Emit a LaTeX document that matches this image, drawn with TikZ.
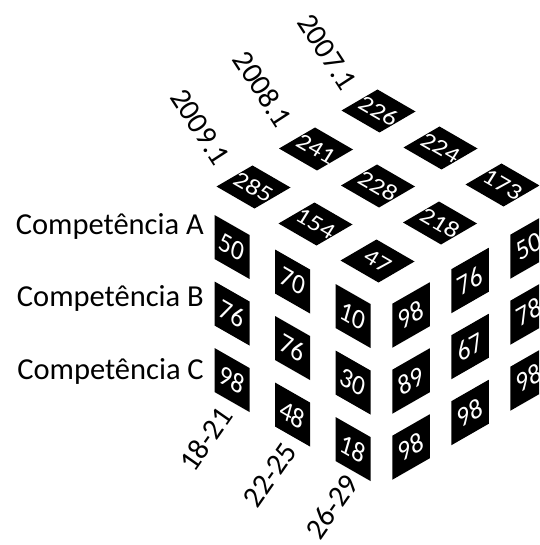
\documentclass[tikz,border=0pt]{standalone}
\usepackage{fontspec}
\setmainfont{Carlito}
\usetikzlibrary{calc}
\tikzset{
  cellfill/.style={fill=black},
  celltext/.style={text=white, font=\fontsize{27}{27}\selectfont, inner sep=0pt, transform shape},
  topplane/.code={\pgftransformcm{0.866}{-0.5}{0.45}{0.72}{\pgfpointorigin}},
  leftplane/.code={\pgftransformcm{0.866}{-0.5}{0.28}{0.96}{\pgfpointorigin}},
  rightplane/.code={\pgftransformcm{0.866}{0.5}{-0.28}{0.96}{\pgfpointorigin}},
  rowlabel/.style={font=\fontsize{30.5}{30.5}\selectfont, inner sep=0pt, anchor=base east},
  axislabel/.style={font=\fontsize{30}{30}\selectfont, inner sep=0pt},
}
\begin{document}
\begin{tikzpicture}[x=1pt,y=-1pt]
\fill[white] (0,0) rectangle (539,545);
\useasboundingbox (0,0) rectangle (539,545);
\clip (0,0) rectangle (539,545);

% top face: i runs along the age axis, j along the year axis
\foreach \i/\j/\v in {0/0/285,1/0/154,2/0/47,0/1/241,1/1/228,2/1/218,0/2/226,1/2/224,2/2/173} {
  \coordinate (tc) at ($(253.5,187)+\i*(62,37)+\j*(62.5,-38)$);
  \fill[cellfill] ($(tc)+(-37,-0.5)$) -- ++(38,22) -- ++(36,-21) -- ++(-38,-22) -- cycle;
  \begin{scope}[shift={(tc)}, topplane]
    \node[celltext] (t\i\j) at (0,0) {\v};
  \end{scope}
}

% left face: i = age group, k = competence row
\foreach \i/\k/\v in {0/0/50,0/1/76,0/2/98,1/0/70,1/1/76,1/2/48,2/0/10,2/1/30,2/2/18} {
  \coordinate (lc) at ($(232,247)+\i*(60.5,34.5)+\k*(0,66.5)$);
  \fill[cellfill] ($(lc)+(-17.5,-32)$) -- ++(35,20) -- ++(0,44) -- ++(-35,-20) -- cycle;
  \begin{scope}[shift={(lc)}, leftplane]
    \node[celltext] (l\i\k) at (0,0) {\v};
  \end{scope}
}

% right face: j = year column from the front edge, k = competence row
\foreach \j/\k/\v in {0/0/98,0/1/89,0/2/98,1/0/76,1/1/67,1/2/98,2/0/50,2/1/78,2/2/98} {
  \coordinate (rc) at ($(411,315)+\j*(59,-34.5)+\k*(0,66)$);
  \fill[cellfill] ($(rc)+(-18.75,-11.25)$) -- ++(37.5,-21.5) -- ++(0,44) -- ++(-37.5,21.5) -- cycle;
  \begin{scope}[shift={(rc)}, rightplane]
    \node[celltext] (r\j\k) at (0,0) {\v};
  \end{scope}
}

% competence rows
\node[rowlabel] (compA) at (204,234) {Competência A};
\node[rowlabel] (compB) at (204,306) {Competência B};
\node[rowlabel] (compC) at (204,379) {Competência C};

% years
\node[axislabel, rotate=-57] (y2009) at (200,127) {2009.1};
\node[axislabel, rotate=-57] (y2008) at (263,89) {2008.1};
\node[axislabel, rotate=-57] (y2007) at (327,52) {2007.1};

% age groups
\node[axislabel, rotate=55] (age1) at (206,439) {18-21};
\node[axislabel, rotate=55] (age2) at (270,475) {22-25};
\node[axislabel, rotate=55] (age3) at (332,507) {26-29};
\end{tikzpicture}
\end{document}
